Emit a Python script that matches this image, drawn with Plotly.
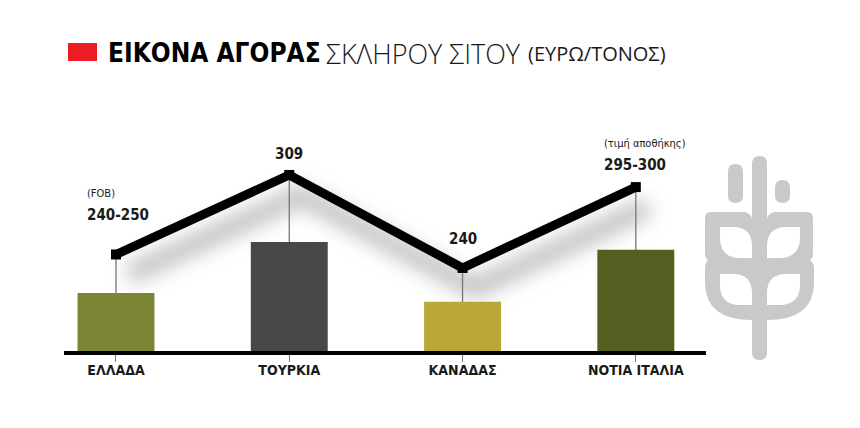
import re
import plotly.graph_objects as go

W, H = 860, 428
BASE_PX = 351

countries = ["ΕΛΛΑΔΑ", "ΤΟΥΡΚΙΑ", "ΚΑΝΑΔΑΣ", "ΝΟΤΙΑ ΙΤΑΛΙΑ"]
prices = [250, 309, 240, 300]
price_labels = ["240-250", "309", "240", "295-300"]
price_notes = ["(FOB)", "", "", "(τιμή αποθήκης)"]
bar_colors = ["#7b8534", "#474948", "#b9a837", "#565f21"]

LINE_RANGE = [178.4, 438.8]
BAR_RANGE = [183, 589]
X_RANGE = [-0.300, 3.405]
NARROW = "DejaVu Sans Condensed, Liberation Sans, sans-serif"
WHEAT = "#c8c9cb"


def px_path(d):
    """Turn an SVG path written in page pixels into paper coordinates."""
    def conv(m):
        return f"{float(m.group(1)) / W:.5f},{1 - float(m.group(2)) / H:.5f}"
    return re.sub(r"(-?[\d.]+),(-?[\d.]+)", conv, d)


def pill(x0, x1, y0, y1):
    r = (x1 - x0) / 2
    xm = (x0 + x1) / 2
    return (f"M{x0},{y0 + r} Q{x0},{y0} {xm},{y0} Q{x1},{y0} {x1},{y0 + r} "
            f"L{x1},{y1 - r} Q{x1},{y1} {xm},{y1} Q{x0},{y1} {x0},{y1 - r} Z")


def solid(d, color=WHEAT):
    return dict(type="path", xref="paper", yref="paper", path=px_path(d),
                fillcolor=color, line=dict(width=0), layer="above")


ear = (
    "M711,212 L745,212 Q752,214 752,220 L767,220 Q767,214 774,212 L807,212 Q813,212 813,218 "
    "L813,254 Q813,258 810,260 Q814,263 814,268 L814,284 Q813,320 767,320 L752,320 "
    "Q706,320 705,284 L705,268 Q705,263 708,260 Q705,258 705,254 L705,218 Q705,212 711,212 Z "
    # upper grains
    "M720,227 L736,227 Q752,229 752,246 L752,258 L737,258 Q720,256 720,238 Z "
    "M800,227 L783,227 Q767,229 767,246 L767,258 L782,258 Q800,256 800,238 Z "
    # lower grains
    "M720,274 L736,274 Q752,276 752,293 L752,305 L737,305 Q720,303 720,285 Z "
    "M800,274 L783,274 Q767,276 767,293 L767,305 L782,305 Q800,303 800,285 Z"
)

shapes = [
    solid("M68,43 L97,43 L97,61 L68,61 Z", "#ed1c24"),
    solid(ear),
    solid(pill(752, 767, 156, 360)),
    solid(pill(728, 743, 164, 203)),
    solid(pill(775, 790, 180, 203)),
]
# thin stems from each price point down to the baseline
for i, p in enumerate(prices):
    shapes.append(dict(type="line", xref="x", yref="y", x0=i, x1=i,
                       y0=LINE_RANGE[0], y1=p, layer="below",
                       line=dict(color="#777777", width=1.3)))

fig = go.Figure()
x_idx = list(range(len(countries)))

# soft shadow under the price line (blurred by the page script below)
fig.add_trace(go.Scatter(x=[i + 0.07 for i in x_idx], y=[p - 15 for p in prices],
                         mode="lines", yaxis="y", hoverinfo="skip", showlegend=False,
                         line=dict(color="rgba(120,120,120,0.5)", width=18)))
fig.add_trace(go.Scatter(x=x_idx, y=prices, mode="lines+markers", yaxis="y",
                         showlegend=False,
                         line=dict(color="#000000", width=9),
                         marker=dict(symbol="square", size=10, color="#000000")))
fig.add_trace(go.Bar(x=x_idx, y=prices, yaxis="y2", width=0.444,
                     marker=dict(color=bar_colors, line=dict(width=0)),
                     showlegend=False))

annotations = []


def page_text(text, x, y, size, family, weight=400, color="#1a1a1a"):
    annotations.append(dict(text=text, xref="paper", yref="paper", x=x / W, y=1 - y / H,
                            xanchor="left", yanchor="middle", showarrow=False,
                            font=dict(size=size, family=family, color=color, weight=weight)))


page_text("ΕΙΚΟΝΑ ΑΓΟΡΑΣ", 106, 53, 26, NARROW, 700, "#000000")
page_text("ΣΚΛΗΡΟΥ ΣΙΤΟΥ", 324, 53, 27, "Open Sans", 300)
page_text("(ΕΥΡΩ/ΤΟΝΟΣ)", 526, 54, 20, "Open Sans", 400)

# price captions, centred over the point or set to the left of it
label_dx = [-31, 0, 0, -34]
label_dy = [39, 21, 29, 22]
for i, (lab, note) in enumerate(zip(price_labels, price_notes)):
    left = bool(note)
    annotations.append(dict(text=lab, x=i, y=prices[i], xref="x", yref="y", showarrow=False,
                            xanchor="left" if left else "center", yanchor="middle",
                            xshift=label_dx[i], yshift=label_dy[i],
                            font=dict(size=15, family=NARROW, color="#1a1a1a", weight=700)))
    if note:
        annotations.append(dict(text=note, x=i, y=prices[i], xref="x", yref="y", showarrow=False,
                                xanchor="left", yanchor="middle",
                                xshift=label_dx[i], yshift=label_dy[i] + 22,
                                font=dict(size=11, family=NARROW, color="#1a1a1a")))

fig.update_layout(
    width=W, height=H, margin=dict(l=0, r=0, t=0, b=0), autosize=False,
    paper_bgcolor="#ffffff", plot_bgcolor="rgba(0,0,0,0)",
    xaxis=dict(domain=[64 / W, 706 / W], range=X_RANGE, tickmode="array",
               tickvals=x_idx, ticktext=countries, ticks="outside", ticklen=7,
               tickcolor="#777777", tickwidth=1, showline=True, linecolor="#000000",
               linewidth=4, showgrid=False, zeroline=False, ticklabelstandoff=-4,
               tickfont=dict(size=14, family=NARROW, color="#1a1a1a", weight=700)),
    yaxis=dict(domain=[(H - BASE_PX) / H, 1], range=LINE_RANGE, visible=False),
    yaxis2=dict(domain=[(H - BASE_PX) / H, 1], range=BAR_RANGE, overlaying="y", visible=False),
    shapes=shapes, annotations=annotations,
)

blur_shadow = """
var t = document.querySelectorAll('.scatterlayer .trace')[0];
if (t) { t.querySelectorAll('path.js-line').forEach(function (p) {
  p.style.filter = 'blur(10px)';
}); }
"""
fig.write_html("out.html", config={"displayModeBar": False}, post_script=blur_shadow)
